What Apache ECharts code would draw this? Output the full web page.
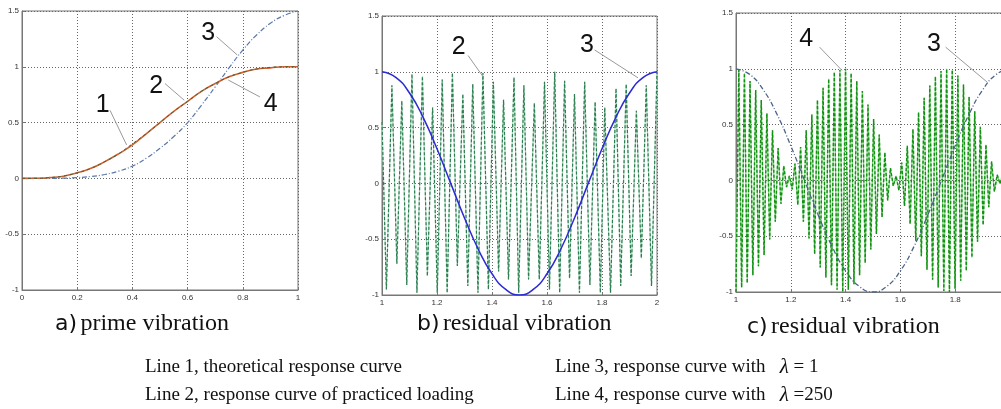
<!DOCTYPE html>
<html>
<head>
<meta charset="utf-8">
<script src="https://cdn.jsdelivr.net/npm/echarts@6/dist/echarts.min.js"></script>
<style>
html, body { margin: 0; padding: 0; background: #fff; }
#main { width: 1001px; height: 409px; }
</style>
</head>
<body>
<div id="main"></div>
<script>
// ---- chart a) prime vibration ----
const aX = [0, 0.05, 0.1, 0.15, 0.2, 0.25, 0.3, 0.35, 0.4, 0.45, 0.5, 0.55, 0.6, 0.65, 0.7, 0.75, 0.8, 0.85, 0.9, 0.95, 1];
const aLine1 = [0, 0.001, 0.007, 0.02, 0.05, 0.09, 0.15, 0.22, 0.30, 0.40, 0.50, 0.60, 0.69, 0.78, 0.85, 0.91, 0.95, 0.98, 0.99, 1.0, 1.0];
const aLine2 = [0, 0.001, 0.007, 0.021, 0.05, 0.09, 0.15, 0.22, 0.31, 0.40, 0.50, 0.60, 0.69, 0.78, 0.85, 0.91, 0.95, 0.98, 0.995, 1.0, 1.0];
const aLine3 = [0, 0, 0.0005, 0.002, 0.007, 0.017, 0.035, 0.065, 0.11, 0.18, 0.27, 0.375, 0.50, 0.655, 0.82, 0.99, 1.15, 1.285, 1.39, 1.46, 1.5];

// ---- charts b) and c) residual vibration ----
const bcX = [1, 1.05, 1.1, 1.15, 1.2, 1.25, 1.3, 1.35, 1.4, 1.45, 1.5, 1.55, 1.6, 1.65, 1.7, 1.75, 1.8, 1.85, 1.9, 1.95, 2];
const line3 = [1, 0.95, 0.81, 0.59, 0.31, 0, -0.31, -0.59, -0.81, -0.95, -1, -0.95, -0.81, -0.59, -0.31, 0, 0.31, 0.59, 0.81, 0.95, 1];

const bLine2X = [1.000, 1.016, 1.036, 1.054, 1.072, 1.090, 1.109, 1.127, 1.147, 1.165,
  1.184, 1.201, 1.219, 1.237, 1.256, 1.274, 1.294, 1.312, 1.330, 1.349,
  1.367, 1.387, 1.405, 1.424, 1.442, 1.460, 1.480, 1.497, 1.516, 1.533,
  1.554, 1.572, 1.591, 1.609, 1.628, 1.646, 1.664, 1.682, 1.700, 1.718,
  1.737, 1.756, 1.775, 1.794, 1.810, 1.831, 1.851, 1.868, 1.888, 1.906,
  1.925, 1.943, 1.961, 1.980, 2.000];
const bLine2Y = [0.55, -0.95, 0.88, -0.72, 0.74, -0.91, 0.98, -0.98, 0.96, -0.83,
  0.68, -0.98, 0.93, -0.98, 0.99, -0.74, 0.80, -0.92, 0.89, -0.98,
  0.99, -0.95, 0.91, -0.79, 0.75, -0.86, 0.95, -0.98, 0.88, -0.86,
  0.72, -0.86, 0.91, -0.95, 1.00, -0.98, 0.92, -0.85, 0.80, -0.98,
  0.91, -0.91, 0.73, -0.98, 0.68, -0.98, 0.85, -0.92, 0.89, -0.83,
  0.65, -0.67, 0.88, -0.92, 1.00];

// line 4 (lambda = 250), extrema sampled every half carrier period
const cLine4Start = 1.0;
const cLine4Step = 0.01025;
const cLine4Y = [-1.00, 0.99, -0.96, 0.96, -0.92, 0.89, -0.85, 0.81, -0.77, 0.72,
  -0.67, 0.60, -0.53, 0.45, -0.37, 0.29, -0.21, 0.13, -0.06, 0.04,
  -0.08, 0.15, -0.22, 0.30, -0.37, 0.45, -0.52, 0.59, -0.66, 0.72,
  -0.78, 0.83, -0.87, 0.91, -0.94, 0.97, -0.98, 0.99, -1.00, 1.00,
  -0.98, 0.96, -0.93, 0.89, -0.85, 0.80, -0.74, 0.68, -0.62, 0.55,
  -0.48, 0.41, -0.33, 0.25, -0.18, 0.11, -0.05, 0.04, -0.09, 0.16,
  -0.23, 0.31, -0.39, 0.46, -0.54, 0.61, -0.68, 0.74, -0.80, 0.85,
  -0.89, 0.93, -0.96, 0.98, -0.99, 1.00, -1.00, 0.99, -0.97, 0.94,
  -0.90, 0.86, -0.81, 0.75, -0.69, 0.62, -0.55, 0.48, -0.40, 0.32,
  -0.24, 0.17, -0.10, 0.05, -0.03, 0.06, -0.10, 0.15];

// number labels with leader lines (data coordinates)
const annotGrid = [0, 0, 0, 0, 1, 1, 2, 2];
const annotText = ['1', '2', '3', '4', '2', '3', '4', '3'];
const annotAt = [[0.292, 0.66], [0.486, 0.83], [0.675, 1.30], [0.901, 0.67], [1.279, 1.22], [1.745, 1.235], [1.256, 1.27], [1.722, 1.224]];
const annotFrom = [[0.319, 0.61], [0.518, 0.85], [0.705, 1.27], [0.862, 0.73], [1.313, 1.146], [1.773, 1.196], [1.305, 1.194], [1.765, 1.194]];
const annotTo = [[0.379, 0.30], [0.588, 0.70], [0.78, 1.106], [0.747, 0.882], [1.367, 0.958], [1.931, 0.946], [1.387, 0.985], [1.917, 0.88]];

const pairs = (xs, ys) => xs.map((x, i) => [x, ys[i]]);
const cLine4 = cLine4Y.map((y, i) => [cLine4Start + i * cLine4Step, y]);

const tickFont = { fontSize: 8, color: '#333', fontFamily: 'Liberation Sans' };
const gridLine = { show: true, lineStyle: { type: [1, 2], color: '#666', width: 1 } };

function xAxisFor(gi, min, max) {
  return {
    gridIndex: gi, type: 'value', min: min, max: max, interval: 0.2,
    axisLine: { show: true, onZero: false, lineStyle: { color: '#777' } },
    axisTick: { show: true, inside: true, length: 3, lineStyle: { color: '#777' } },
    axisLabel: Object.assign({ margin: 4 }, tickFont),
    splitLine: gridLine
  };
}
function yAxisFor(gi) {
  return {
    gridIndex: gi, type: 'value', min: -1, max: 1.5, interval: 0.5,
    axisLine: { show: true, onZero: false, lineStyle: { color: '#777' } },
    axisTick: { show: true, inside: true, length: 3, lineStyle: { color: '#777' } },
    axisLabel: Object.assign({ margin: 3 }, tickFont),
    splitLine: gridLine
  };
}
function lineSeries(gi, data, color, width, type, smooth, z) {
  return {
    type: 'line', xAxisIndex: gi, yAxisIndex: gi, data: data,
    showSymbol: false, symbol: 'none', smooth: smooth, z: z,
    lineStyle: { color: color, width: width, type: type }
  };
}

const chart = echarts.init(document.getElementById('main'), null, { renderer: 'canvas' });

const option = {
  animation: false,
  backgroundColor: '#fff',
  grid: [
    { left: 22, top: 11, width: 276, height: 279, show: true, borderColor: '#777', borderWidth: 1, outerBoundsMode: 'none' },
    { left: 382, top: 16, width: 275, height: 279, show: true, borderColor: '#777', borderWidth: 1, outerBoundsMode: 'none' },
    { left: 736, top: 13, width: 274, height: 279, show: true, borderColor: '#777', borderWidth: 1, outerBoundsMode: 'none' }
  ],
  xAxis: [xAxisFor(0, 0, 1), xAxisFor(1, 1, 2), xAxisFor(2, 1, 2)],
  yAxis: [yAxisFor(0), yAxisFor(1), yAxisFor(2)],
  series: [
    lineSeries(0, pairs(aX, aLine3), '#5a78a8', 1.2, [5, 2, 1, 2], true, 3),
    lineSeries(0, pairs(aX, aLine1), '#d0622e', 1.6, 'solid', true, 4),
    lineSeries(0, pairs(aX, aLine2), '#4a5a3a', 1, [3, 3], true, 5),

    lineSeries(1, pairs(bLine2X, bLine2Y), '#a8d8bc', 1.2, 'solid', false, 3),
    lineSeries(1, pairs(bLine2X, bLine2Y), '#2e7d52', 1.2, [3, 2], false, 4),
    lineSeries(1, pairs(bcX, line3), '#2b2bd6', 1.5, 'solid', true, 5),

    lineSeries(2, cLine4, '#86d486', 1.3, 'solid', false, 3),
    lineSeries(2, cLine4, '#139013', 1.4, [3, 2], false, 4),
    lineSeries(2, pairs(bcX, line3), '#4a6488', 1.3, [5, 2, 1, 2], true, 5)
  ]
};
chart.setOption(option);

// captions and legend text
const graphics = [];
function caption(x, y, letter, words) {
  graphics.push({
    type: 'text', x: x, y: y, z: 20,
    style: {
      text: '{s|' + letter + '} {r|' + words + '}',
      verticalAlign: 'middle',
      rich: {
        s: { fontFamily: 'DejaVu Sans', fontSize: 22, fill: '#111' },
        r: { fontFamily: 'Liberation Serif', fontSize: 24, fill: '#111' }
      }
    }
  });
}
caption(55, 324, 'a)', 'prime vibration');
caption(417, 324, 'b)', 'residual vibration');
caption(747, 327, 'c)', 'residual vibration');

function legendLine(x, y, text, lam) {
  let t = '{r|' + text + '}';
  if (lam) t += '{i|λ}{r|' + lam + '}';
  graphics.push({
    type: 'text', x: x, y: y, z: 20,
    style: {
      text: t,
      verticalAlign: 'middle',
      rich: {
        r: { fontFamily: 'Liberation Serif', fontSize: 19, fill: '#111' },
        i: { fontFamily: 'Liberation Serif', fontSize: 21, fontStyle: 'italic', fill: '#111' }
      }
    }
  });
}
legendLine(145, 367, 'Line 1, theoretical response curve');
legendLine(145, 395, 'Line 2, response curve of practiced loading');
legendLine(555, 367, 'Line 3, response curve with   ', ' = 1');
legendLine(555, 395, 'Line 4, response curve with   ', ' =250');

annotText.forEach((t, i) => {
  const g = { gridIndex: annotGrid[i] };
  const p = chart.convertToPixel(g, annotAt[i]);
  const a = chart.convertToPixel(g, annotFrom[i]);
  const b = chart.convertToPixel(g, annotTo[i]);
  graphics.push({
    type: 'line', z: 20,
    shape: { x1: a[0], y1: a[1], x2: b[0], y2: b[1] },
    style: { stroke: '#9a9a9a', lineWidth: 1 }
  });
  graphics.push({
    type: 'text', x: p[0], y: p[1], z: 21,
    style: { text: t, fontFamily: 'Liberation Sans', fontSize: 25, fill: '#111', align: 'center', verticalAlign: 'middle' }
  });
});

chart.setOption({ graphic: graphics });
window.addEventListener('resize', () => chart.resize());
</script>
</body>
</html>
